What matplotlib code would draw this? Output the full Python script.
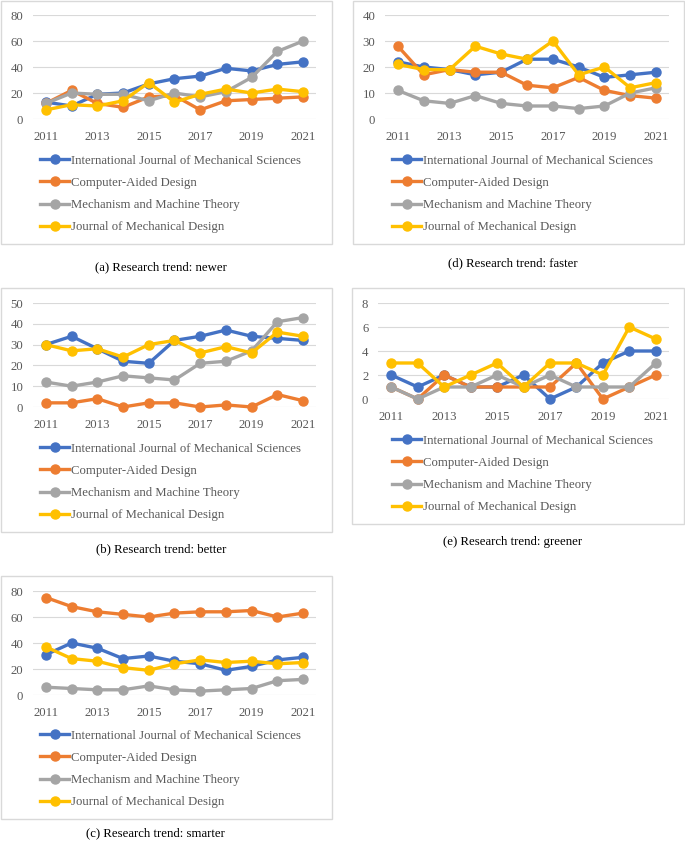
import matplotlib.pyplot as plt
from matplotlib.patches import Rectangle

plt.rcParams['font.family'] = ['Liberation Serif', 'DejaVu Serif']

years = list(range(2011, 2022))
journals = ['International Journal of Mechanical Sciences', 'Computer-Aided Design',
            'Mechanism and Machine Theory', 'Journal of Mechanical Design']
colors = ['#4472C4', '#ED7D31', '#A5A5A5', '#FFC000']

# order of series: IJMS, CAD, MMT, JMD
newer = [
    [13, 10, 19, 20, 27, 31, 33, 39, 37, 42, 44],
    [12, 22, 12, 9, 17, 18, 7, 14, 15, 16, 17],
    [12, 20, 19, 19, 14, 20, 17, 21, 32, 52, 60],
    [7, 11, 10, 14, 28, 13, 19, 23, 20, 23, 21],
]
faster = [
    [22, 20, 19, 17, 18, 23, 23, 20, 16, 17, 18],
    [28, 17, 19, 18, 18, 13, 12, 16, 11, 9, 8],
    [11, 7, 6, 9, 6, 5, 5, 4, 5, 10, 12],
    [21, 19, 19, 28, 25, 23, 30, 17, 20, 12, 14],
]
better = [
    [30, 34, 28, 22, 21, 32, 34, 37, 34, 33, 32],
    [2, 2, 4, 0, 2, 2, 0, 1, 0, 6, 3],
    [12, 10, 12, 15, 14, 13, 21, 22, 27, 41, 43],
    [30, 27, 28, 24, 30, 32, 26, 29, 26, 36, 34],
]
greener = [
    [2, 1, 2, 1, 1, 2, 0, 1, 3, 4, 4],
    [1, 0, 2, 1, 1, 1, 1, 3, 0, 1, 2],
    [1, 0, 1, 1, 2, 1, 2, 1, 1, 1, 3],
    [3, 3, 1, 2, 3, 1, 3, 3, 2, 6, 5],
]
smarter = [
    [31, 40, 36, 28, 30, 26, 24, 19, 22, 27, 29],
    [75, 68, 64, 62, 60, 63, 64, 64, 65, 60, 63],
    [6, 5, 4, 4, 7, 4, 3, 4, 5, 11, 12],
    [37, 28, 26, 21, 19, 24, 27, 25, 26, 24, 25],
]

W, H = 685, 841
fig = plt.figure(figsize=(W / 100, H / 100), dpi=100)


def fx(px):
    return px / W


def fy(py):
    return 1 - py / H


def panel(series, ymax, ystep, plot_box, frame, legend_xy, title, title_xy):
    x0, x1, ytop, yzero = plot_box
    ax = fig.add_axes([fx(x0), fy(yzero), (x1 - x0) / W, (yzero - ytop) / H])
    for vals, name, c in zip(series, journals, colors):
        ax.plot(years, vals, color=c, lw=2.4, marker='o', ms=6.5, label=name,
                clip_on=False, solid_joinstyle='round')
    ax.set_xlim(2010.5, 2021.5)
    ax.set_ylim(0, ymax)
    ax.set_yticks(range(0, ymax + 1, ystep))
    ax.set_xticks(years[::2])
    ax.grid(axis='y', color='#d9d9d9', lw=0.8)
    ax.set_axisbelow(True)
    for s in ax.spines.values():
        s.set_visible(False)
    ax.tick_params(length=0, colors='#595959', labelsize=9.2)
    ax.tick_params(axis='x', pad=8.5)
    ax.tick_params(axis='y', pad=7)

    l, t, r, b = frame
    fig.add_artist(Rectangle((fx(l), fy(b)), (r - l) / W, (b - t) / H,
                             transform=fig.transFigure, fill=False,
                             ec='#d9d9d9', lw=1))
    ax.legend(loc='center left', bbox_to_anchor=(fx(legend_xy[0]), fy(legend_xy[1])),
              bbox_transform=fig.transFigure, frameon=False, fontsize=9.2,
              handlelength=2.3, handletextpad=0.15, labelspacing=0.8,
              borderpad=0, borderaxespad=0, labelcolor='#595959')
    fig.text(fx(title_xy[0]), fy(title_xy[1]), title, ha='center', va='center',
             fontsize=9.2)


panel(newer, 80, 20, (33, 316, 15, 119), (1, 1, 332, 244), (40, 194),
      '(a) Research trend: newer', (161, 267))
panel(faster, 40, 10, (385, 669, 15, 119), (353, 1, 684, 244), (392, 194),
      '(d) Research trend: faster', (513, 263))
panel(better, 50, 10, (33, 316, 303, 407), (1, 288, 332, 532), (40, 482),
      '(b) Research trend: better', (161, 549))
panel(greener, 8, 2, (378, 669, 303, 399), (352, 288, 684, 524), (392, 474),
      '(e) Research trend: greener', (513, 542))
panel(smarter, 80, 20, (33, 316, 591, 695), (1, 576, 332, 819), (40, 769),
      '(c) Research trend: smarter', (155, 833))

fig.savefig('out.png', dpi=100)
